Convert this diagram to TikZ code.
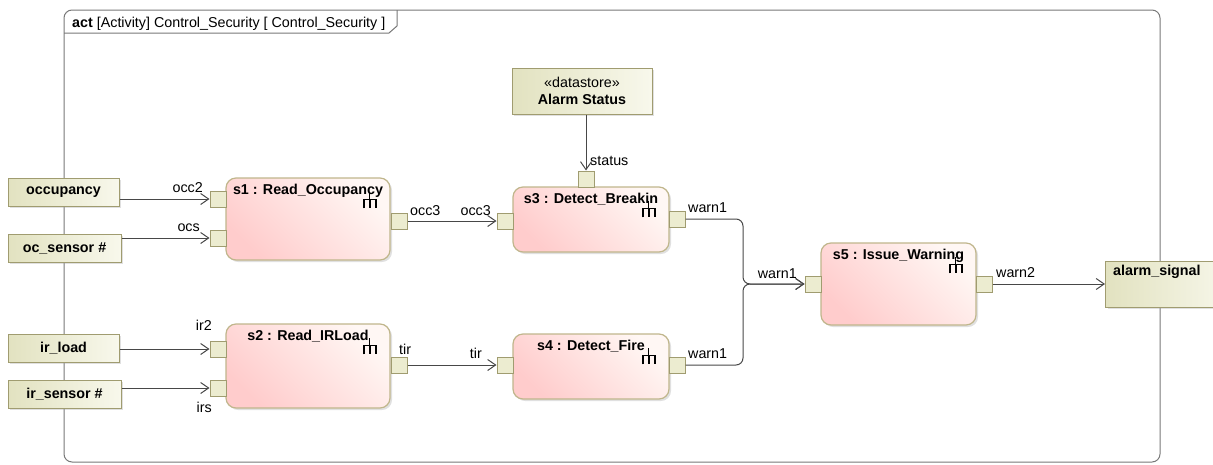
\documentclass[tikz,border=0pt]{standalone}
\usepackage{fontspec}
\setmainfont{Liberation Sans}
\usetikzlibrary{arrows.meta,shadows}

\definecolor{actfill}{RGB}{255,204,204}
\definecolor{actend}{RGB}{255,247,244}
\definecolor{actborder}{RGB}{192,182,140}
\definecolor{parfill}{RGB}{226,226,192}
\definecolor{parend}{RGB}{248,248,236}
\definecolor{parborder}{RGB}{160,156,112}
\definecolor{pinfill}{RGB}{236,236,208}
\definecolor{linecol}{RGB}{72,72,72}
\definecolor{framecol}{RGB}{120,120,120}

\newcommand{\txtfont}{\fontsize{14.3}{17}\selectfont}

\tikzset{
  param/.style={draw=parborder, line width=1pt, left color=parfill, right color=parend,
    minimum height=28pt, inner sep=0pt, font=\txtfont\bfseries,
    drop shadow={shadow xshift=2pt, shadow yshift=-2pt, opacity=0.3, fill=black!40}},
  action/.style={draw=actborder, line width=1.2pt, rounded corners=10pt,
    left color=actfill, right color=actend, shading angle=135,
    drop shadow={shadow xshift=2pt, shadow yshift=-2pt, opacity=0.3, fill=black!40}},
  pinbox/.style={draw=parborder, line width=1pt, fill=pinfill, minimum size=16pt, inner sep=0pt},
  titletxt/.style={inner sep=0pt, anchor=base, font=\txtfont\bfseries},
  pinlbl/.style={inner sep=0pt, font=\txtfont},
  flow/.style={draw=linecol, line width=1pt, ->},
  rake/.pic={
    \draw[line width=0.8pt] (0,-7) -- (0,0);
    \draw[line width=1.8pt] (-6,9) -- (-6,0) -- (6,0) -- (6,9) (0,0) -- (0,9);
  }
}

\begin{document}
\begin{tikzpicture}[x=1pt, y=-1pt, font=\txtfont, >={Straight Barb[length=8pt,width=11pt]}]
    \useasboundingbox (0,0) rectangle (1213,464);
    % frame
    \draw[framecol, line width=1pt, rounded corners=8pt] (64,10) rectangle (1160,462);
    \draw[framecol, line width=1pt] (64,33) -- (389,33) -- (397,26) -- (397,10);
    \node[anchor=base west, inner sep=0pt] (frametitle) at (72,27) {\textbf{act} [Activity] Control\_Security [ Control\_Security ]};

    % parameters
    \node[param, minimum width=111pt] (occupancy) at (63.5,192) {occupancy};
    \node[param, minimum width=113pt] (ocsensor) at (64.5,248) {oc\_sensor \#};
    \node[param, minimum width=111pt] (irload) at (63.5,348) {ir\_load};
    \node[param, minimum width=113pt] (irsensor) at (64.5,394) {ir\_sensor \#};
    \node[param, minimum width=130pt, minimum height=46pt, anchor=west] (alarm) at (1105,284) {};
    \node[anchor=north west, inner sep=0pt, font=\txtfont\bfseries] (alarmtxt) at (1113,265) {alarm\_signal};

    % datastore
    \node[param, minimum width=140pt, minimum height=46pt, align=center, font=\txtfont] (alarmstatus) at (582,91) {«datastore»\\\textbf{Alarm Status}};

    % actions
    \foreach \n/\x/\y/\w/\h/\t in {s1/308/219/164/82/Read\_Occupancy, s2/308/366/164/84/Read\_IRLoad,
        s3/591/219.5/156/65/Detect\_Breakin, s4/591/366.5/156/65/Detect\_Fire, s5/898.5/284/155/82/Issue\_Warning}
    {
        \node[action, minimum width=\w pt, minimum height=\h pt] (\n) at (\x,\y) {};
        \node[titletxt] (\n title) at ([shift={(0,17)}]\n.north) {\n{} : \t};
        \pic at ([shift={(-21,22)}]\n.north east) {rake};
    }

    % pins
    \foreach \n/\x/\y in {occ2/218/199, ocs/218/238, occ3out/399/221, ir2/218/349, irs/218/388,
        tirout/399/365, occ3in/505/221, tirin/505/365, status/586/179,
        warnbreak/677/219, warnfire/677/365, warnin/813/284, warnout/984/284}
    {
        \node[pinbox] (\n) at (\x,\y) {};
    }

    % pin labels
    \foreach \n/\a/\dx/\dy/\t in {occ2/base east/-15/-7/occ2, ocs/base east/-18/-7/ocs,
        occ3out/base west/11/-6/occ3, occ3in/base east/-14/-6/occ3,
        ir2/base east/-6/-19/ir2, irs/base east/-6/24/irs,
        tirout/base west/0/-11/tir, tirin/base east/-23/-7/tir,
        status/base west/4/-14/status,
        warnbreak/base west/11/-7/warn1, warnfire/base west/11/-7/warn1,
        warnin/base east/-16/-6/warn1, warnout/base west/12/-7/warn2}
    {
        \node[pinlbl, anchor=\a] (\n lbl) at ([shift={(\dx,\dy)}]\n.center) {\t};
    }

    % flows
    \draw[flow] (occupancy.east |- occ2) -- (occ2);
    \draw[flow] (ocsensor.east |- ocs) -- (ocs);
    \draw[flow] (irload.east |- ir2) -- (ir2);
    \draw[flow] (irsensor.east |- irs) -- (irs);
    \draw[flow] (occ3out) -- (occ3in);
    \draw[flow] (tirout) -- (tirin);
    \draw[flow] (alarmstatus.south -| status) -- (status);
    \coordinate (merge) at (743,284);
    \draw[flow, rounded corners=7pt] (warnbreak) -| (merge) -- (warnin);
    \draw[flow, rounded corners=7pt] (warnfire) -| (merge) -- (warnin);
    \draw[flow] (warnout) -- (warnout -| alarm.west);
\end{tikzpicture}
\end{document}
